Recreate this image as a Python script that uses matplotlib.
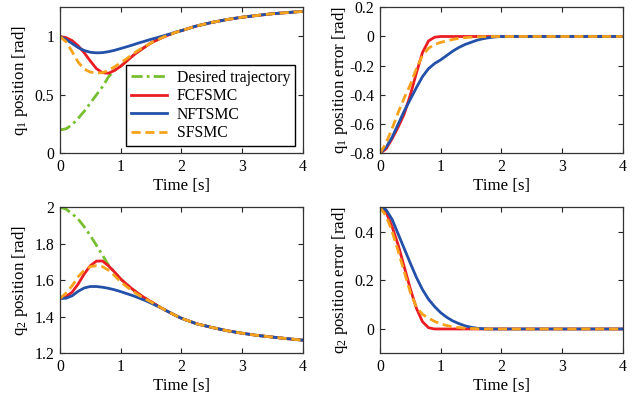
import matplotlib
matplotlib.use("Agg")
import matplotlib.pyplot as plt
from matplotlib.ticker import FormatStrFormatter

# time axis [s]
t = [0.0, 0.1, 0.2, 0.3, 0.4, 0.5, 0.6, 0.7, 0.8, 0.9, 1.0,
     1.1, 1.2, 1.3, 1.4, 1.5, 1.6, 1.7, 1.8, 1.9, 2.0,
     2.25, 2.5, 2.75, 3.0, 3.25, 3.5, 3.75, 4.0]

# joint 1 positions [rad]
q1_des = [0.20, 0.21, 0.245, 0.30, 0.36, 0.43, 0.50, 0.57, 0.655, 0.71, 0.745,
          0.79, 0.835, 0.875, 0.91, 0.945, 0.97, 0.995, 1.015, 1.035, 1.05,
          1.09, 1.12, 1.145, 1.165, 1.18, 1.195, 1.205, 1.215]
q1_fcfsmc = [1.0, 0.99, 0.965, 0.92, 0.86, 0.79, 0.725, 0.69, 0.685, 0.71, 0.745,
             0.79, 0.835, 0.875, 0.91, 0.945, 0.97, 0.995, 1.015, 1.035, 1.05,
             1.09, 1.12, 1.145, 1.165, 1.18, 1.195, 1.205, 1.215]
q1_nftsmc = [1.0, 0.975, 0.94, 0.905, 0.88, 0.865, 0.86, 0.862, 0.87, 0.882, 0.897,
             0.912, 0.928, 0.945, 0.96, 0.976, 0.99, 1.005, 1.02, 1.036, 1.05,
             1.09, 1.12, 1.145, 1.165, 1.18, 1.195, 1.205, 1.215]
q1_sfsmc = [1.0, 0.955, 0.87, 0.78, 0.72, 0.695, 0.688, 0.69, 0.71, 0.74, 0.775,
            0.81, 0.85, 0.885, 0.915, 0.945, 0.97, 0.995, 1.015, 1.035, 1.05,
            1.09, 1.12, 1.145, 1.165, 1.18, 1.195, 1.205, 1.215]

# joint 1 errors [rad]
e1_fcfsmc = [-0.80, -0.77, -0.70, -0.62, -0.53, -0.40, -0.25, -0.11, -0.03, -0.005, 0.0,
             0, 0, 0, 0, 0, 0, 0, 0, 0, 0,
             0, 0, 0, 0, 0, 0, 0, 0]
e1_nftsmc = [-0.80, -0.76, -0.69, -0.60, -0.51, -0.43, -0.35, -0.275, -0.22, -0.185, -0.16,
             -0.13, -0.10, -0.075, -0.055, -0.04, -0.025, -0.015, -0.008, -0.003, 0.0,
             0, 0, 0, 0, 0, 0, 0, 0]
e1_sfsmc = [-0.80, -0.73, -0.63, -0.52, -0.42, -0.33, -0.22, -0.13, -0.08, -0.055, -0.04,
            -0.03, -0.02, -0.013, -0.008, -0.005, -0.003, -0.001, 0, 0, 0,
            0, 0, 0, 0, 0, 0, 0, 0]

# joint 2 positions [rad]
q2_des = [2.0, 1.99, 1.965, 1.935, 1.893, 1.845, 1.792, 1.738, 1.683, 1.645, 1.607,
          1.578, 1.55, 1.525, 1.503, 1.483, 1.462, 1.443, 1.425, 1.408, 1.392,
          1.362, 1.342, 1.324, 1.31, 1.298, 1.289, 1.28, 1.272]
q2_fcfsmc = [1.5, 1.51, 1.535, 1.58, 1.635, 1.68, 1.705, 1.706, 1.679, 1.645, 1.607,
             1.578, 1.55, 1.525, 1.503, 1.483, 1.462, 1.443, 1.425, 1.408, 1.392,
             1.362, 1.342, 1.324, 1.31, 1.298, 1.289, 1.28, 1.272]
q2_nftsmc = [1.5, 1.502, 1.515, 1.54, 1.558, 1.566, 1.566, 1.562, 1.556, 1.548, 1.538,
             1.527, 1.516, 1.503, 1.49, 1.475, 1.459, 1.443, 1.425, 1.408, 1.392,
             1.362, 1.342, 1.324, 1.31, 1.298, 1.289, 1.28, 1.272]
q2_sfsmc = [1.5, 1.53, 1.57, 1.62, 1.655, 1.675, 1.68, 1.675, 1.655, 1.625, 1.592,
            1.565, 1.54, 1.518, 1.499, 1.481, 1.462, 1.443, 1.425, 1.408, 1.392,
            1.362, 1.342, 1.324, 1.31, 1.298, 1.289, 1.28, 1.272]

# joint 2 errors [rad]
e2_fcfsmc = [0.5, 0.48, 0.42, 0.345, 0.255, 0.165, 0.085, 0.03, 0.005, 0.0, 0.0,
             0, 0, 0, 0, 0, 0, 0, 0, 0, 0,
             0, 0, 0, 0, 0, 0, 0, 0]
e2_nftsmc = [0.5, 0.49, 0.45, 0.39, 0.33, 0.27, 0.212, 0.162, 0.122, 0.092, 0.067,
             0.048, 0.033, 0.022, 0.013, 0.007, 0.003, 0.001, 0, 0, 0,
             0, 0, 0, 0, 0, 0, 0, 0]
e2_sfsmc = [0.5, 0.465, 0.40, 0.32, 0.235, 0.15, 0.09, 0.06, 0.045, 0.031, 0.021,
            0.014, 0.009, 0.006, 0.003, 0.002, 0.001, 0, 0, 0, 0,
            0, 0, 0, 0, 0, 0, 0, 0]

labels = ["Desired trajectory", "FCFSMC", "NFTSMC", "SFSMC"]
c_des = "#77bf2e"
c_fc = "#ea1c24"
c_nf = "#2350a8"
c_sf = "#f7a21b"
ls_des = (0, (4, 1.5, 1, 1.5))
ls_sf = (0, (3.3, 1.7))

plt.rcParams["font.family"] = ["Liberation Serif", "DejaVu Serif"]
plt.rcParams["mathtext.fontset"] = "custom"
plt.rcParams["mathtext.rm"] = "Liberation Serif"
plt.rcParams["mathtext.it"] = "Liberation Serif:italic"
plt.rcParams["font.size"] = 12.2
plt.rcParams["axes.unicode_minus"] = False

fig = plt.figure(figsize=(6.37, 4.01), dpi=100)
W, H = 637, 401


def make_axes(x0, y0, x1, y1):
    return fig.add_axes([x0 / W, 1 - y1 / H, (x1 - x0) / W, (y1 - y0) / H])


ax1 = make_axes(60, 7.3, 302.7, 153.3)
ax2 = make_axes(380, 7.3, 622.7, 153.3)
ax3 = make_axes(60, 207.3, 302.7, 353.3)
ax4 = make_axes(380, 207.3, 622.7, 353.3)

lw = 2.0
# q1 position
ax1.plot(t, q1_des, color=c_des, lw=lw, ls=ls_des, label=labels[0])
ax1.plot(t, q1_fcfsmc, color=c_fc, lw=lw, label=labels[1])
ax1.plot(t, q1_nftsmc, color=c_nf, lw=lw, label=labels[2])
ax1.plot(t, q1_sfsmc, color=c_sf, lw=lw, ls=ls_sf, label=labels[3])
ax1.set_ylim(0, 1.25)
ax1.set_yticks([0, 0.5, 1])
ax1.set_ylabel("q$_1$ position [rad]")
leg = ax1.legend(loc="lower right", bbox_to_anchor=(0.968, 0.05),
                 borderaxespad=0, handlelength=2.35, handletextpad=0.6,
                 labelspacing=0.16, borderpad=0.3, fancybox=False,
                 framealpha=1, edgecolor="black", fontsize=11.3)
leg.get_frame().set_linewidth(1.0)

# q1 error
ax2.plot(t, e1_fcfsmc, color=c_fc, lw=lw)
ax2.plot(t, e1_nftsmc, color=c_nf, lw=lw)
ax2.plot(t, e1_sfsmc, color=c_sf, lw=lw, ls=ls_sf)
ax2.set_ylim(-0.8, 0.2)
ax2.set_yticks([-0.8, -0.6, -0.4, -0.2, 0, 0.2])
ax2.set_ylabel("q$_1$ position error [rad]")

# q2 position
ax3.plot(t, q2_des, color=c_des, lw=lw, ls=ls_des)
ax3.plot(t, q2_fcfsmc, color=c_fc, lw=lw)
ax3.plot(t, q2_nftsmc, color=c_nf, lw=lw)
ax3.plot(t, q2_sfsmc, color=c_sf, lw=lw, ls=ls_sf)
ax3.set_ylim(1.2, 2.0)
ax3.set_yticks([1.2, 1.4, 1.6, 1.8, 2.0])
ax3.set_ylabel("q$_2$ position [rad]")

# q2 error
ax4.plot(t, e2_fcfsmc, color=c_fc, lw=lw)
ax4.plot(t, e2_nftsmc, color=c_nf, lw=lw)
ax4.plot(t, e2_sfsmc, color=c_sf, lw=lw, ls=ls_sf)
ax4.set_ylim(-0.1, 0.5)
ax4.set_yticks([0, 0.2, 0.4])
ax4.set_ylabel("q$_2$ position error [rad]")

for ax in (ax1, ax2, ax3, ax4):
    ax.set_xlim(0, 4)
    ax.set_xticks([0, 1, 2, 3, 4])
    ax.set_xlabel("Time [s]", labelpad=2.5)
    ax.tick_params(direction="in", top=True, right=True, length=3.5,
                   width=0.8, pad=4, labelsize=11.3, colors="#222222",
                   labelcolor="black")
    ax.xaxis.set_major_formatter(FormatStrFormatter("%g"))
    ax.yaxis.set_major_formatter(FormatStrFormatter("%g"))
    ax.yaxis.set_label_coords(-0.125, 0.5)
    for s in ax.spines.values():
        s.set_linewidth(0.9)
        s.set_color("#333333")

fig.savefig("out.png", dpi=100)
